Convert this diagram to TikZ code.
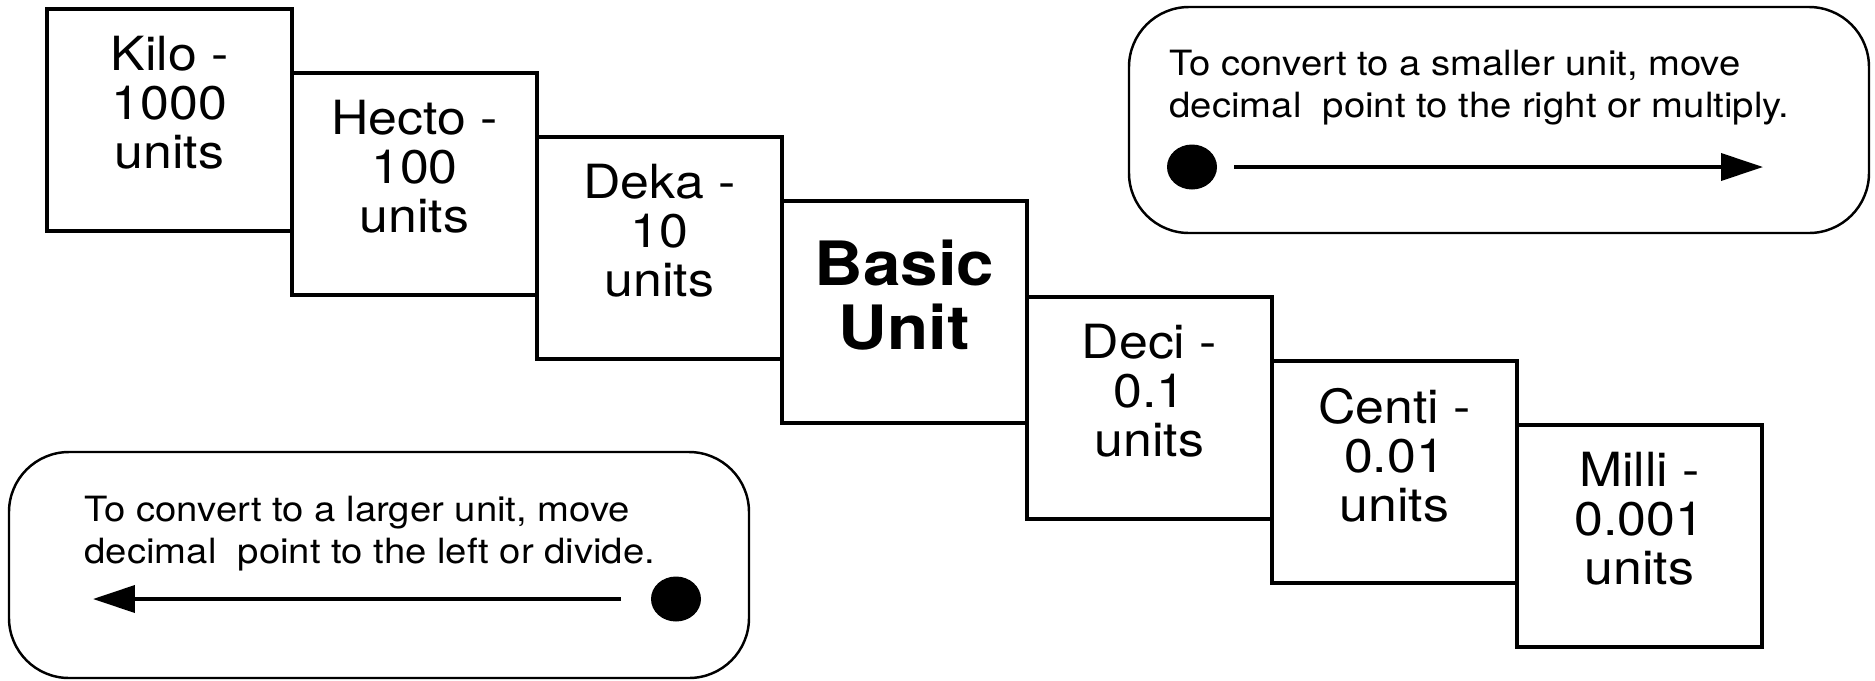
\documentclass[tikz,border=0pt]{standalone}
\usepackage{fontspec}
\setmainfont{TeX Gyre Heros}[FakeStretch=1.1]
\usetikzlibrary{positioning, arrows.meta, shapes.geometric}

\begin{document}
\begin{tikzpicture}[
	unitbox/.style={draw,line width=1pt,minimum width=2.45cm,minimum height=2.22cm,inner sep=0pt,outer sep=0pt,anchor=north west},
	unittext/.style={align=center,inner sep=0pt,font=\fontsize{13.4}{13.9}\selectfont},
	notebox/.style={draw,line width=0.7pt,rounded corners=0.6cm,minimum width=7.4cm,minimum height=2.26cm,inner sep=0pt,outer sep=0pt},
	notetext/.style={align=left,inner sep=0pt,anchor=north west,font=\fontsize{9.9}{12.2}\selectfont},
	dot/.style={ellipse,fill,minimum width=0.5cm,minimum height=0.45cm,inner sep=0pt,outer sep=0pt},
	move/.style={line width=1.1pt,-{Triangle[length=0.42cm,width=0.27cm]}}
	]
	\useasboundingbox (0,0) rectangle (18.75,6.8);

	% staircase of prefixes
	\node[unitbox] (kilo) at (0.47,6.71) {};
	\node[unitbox] (hecto) at ([yshift=-0.64cm]kilo.north east) {};
	\node[unitbox] (deka) at ([yshift=-0.64cm]hecto.north east) {};
	\node[unitbox] (basic) at ([yshift=-0.64cm]deka.north east) {};
	\node[unitbox] (deci) at ([yshift=-0.96cm]basic.north east) {};
	\node[unitbox] (centi) at ([yshift=-0.64cm]deci.north east) {};
	\node[unitbox] (milli) at ([yshift=-0.64cm]centi.north east) {};

	\node[unittext] (kilotext) at ([yshift=0.17cm]kilo.center) {Kilo -\\1000\\units};
	\node[unittext] (hectotext) at ([yshift=0.17cm]hecto.center) {Hecto -\\100\\units};
	\node[unittext] (dekatext) at ([yshift=0.17cm]deka.center) {Deka -\\10\\units};
	\node[unittext,font=\bfseries\fontsize{17.4}{18.2}\selectfont] (basictext) at ([yshift=0.17cm]basic.center) {Basic\\Unit};
	\node[unittext] (decitext) at ([yshift=0.17cm]deci.center) {Deci -\\0.1\\units};
	\node[unittext] (centitext) at ([yshift=0.17cm]centi.center) {Centi -\\0.01\\units};
	\node[unittext] (millitext) at ([yshift=0.17cm]milli.center) {Milli -\\0.001\\units};

	% the two notes
	\node[notebox,anchor=north west] (smaller) at (11.29,6.73) {};
	\node[notetext] (smallertext) at ([xshift=0.4cm,yshift=-0.42cm]smaller.north west)
		{To convert to a smaller unit, move\\decimal\ \ point to the right or multiply.};
	\node[dot] (dotright) at (11.92,5.13) {};
	\coordinate (tipright) at (17.63,5.13);
	\draw[move,shorten <=0.17cm] (dotright) -- (tipright);

	\node[notebox,anchor=south west] (larger) at (0.09,0.02) {};
	\node[notetext] (largertext) at ([xshift=0.75cm,yshift=-0.43cm]larger.north west)
		{To convert to a larger unit, move\\decimal\ \ point to the left or divide.};
	\node[dot] (dotleft) at (6.76,0.81) {};
	\coordinate (tipleft) at (0.93,0.81);
	\draw[move,shorten <=0.30cm] (dotleft) -- (tipleft);
\end{tikzpicture}
\end{document}
